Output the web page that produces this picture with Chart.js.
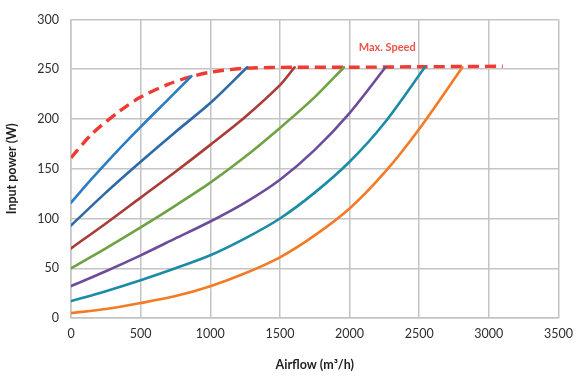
<!DOCTYPE html>
<html>
<head>
<meta charset="utf-8">
<script src="https://cdn.jsdelivr.net/npm/chart.js@4"></script>
<style>
  html, body { margin: 0; padding: 0; background: #fff; }
  #wrap { width: 581px; height: 376px; position: relative; }
</style>
</head>
<body>
<div id="wrap"><canvas id="c"></canvas></div>
<script>
// Airflow (m3/h) vs input power (W), one curve per fan speed step
const maxSpeedX = [0, 150, 350, 500, 700, 850, 1000, 1250, 1600, 2000, 2500, 3100];
const maxSpeedY = [161, 185, 208, 222, 235, 242, 247, 251, 252, 252, 252.5, 253];

const blue1X = [0, 150, 300, 500, 700, 864];
const blue1Y = [116, 140, 163, 192, 220, 243];

const blue2X = [0, 250, 500, 750, 1000, 1265];
const blue2Y = [93, 126, 157, 187, 216, 252];

const redX = [0, 250, 500, 750, 1000, 1250, 1500, 1605];
const redY = [70, 95, 121, 147, 174, 202, 234, 252];

const greenX = [0, 250, 500, 750, 1000, 1250, 1500, 1750, 1960];
const greenY = [50, 70, 91, 113, 136, 162, 191, 222, 252];

const purpleX = [0, 250, 500, 750, 1000, 1250, 1500, 1750, 2000, 2258];
const purpleY = [32, 47, 63, 80, 97, 116, 139, 169, 206, 252];

const tealX = [0, 250, 500, 750, 1000, 1250, 1500, 1750, 2000, 2250, 2540];
const tealY = [17, 27, 38, 50, 63, 80, 100, 126, 157, 196, 252];

const orangeX = [0, 250, 500, 750, 1000, 1250, 1500, 1750, 2000, 2250, 2500, 2810];
const orangeY = [5, 9, 15, 22, 32, 45, 61, 83, 110, 146, 190, 252];

const xTitle = "Airflow (m³/h)";
const yTitle = "Input power (W)";
const maxSpeedLabel = "Max. Speed";
const maxSpeedLabelAt = { x: 2270, y: 272 };

function pts(xs, ys) {
  return xs.map((x, i) => ({ x, y: ys[i] }));
}

function curve(label, xs, ys, color) {
  return {
    label,
    data: pts(xs, ys),
    borderColor: color,
    backgroundColor: color,
    borderWidth: 2.6,
    pointRadius: 0,
    tension: 0.3,
    borderCapStyle: "round",
  };
}

const datasets = [
  curve("s1", blue1X, blue1Y, "#2a7cc4"),
  curve("s2", blue2X, blue2Y, "#2e6aa8"),
  curve("s3", redX, redY, "#a93c37"),
  curve("s4", greenX, greenY, "#6ea243"),
  curve("s5", purpleX, purpleY, "#6d4c9c"),
  curve("s6", tealX, tealY, "#1b8ba6"),
  curve("s7", orangeX, orangeY, "#f47a25"),
  {
    label: "max",
    data: pts(maxSpeedX, maxSpeedY),
    borderColor: "#ef3b33",
    borderWidth: 3.4,
    borderDash: [11, 6],
    pointRadius: 0,
    tension: 0.3,
  },
];

const labelPlugin = {
  id: "maxSpeedLabel",
  afterDatasetsDraw(chart) {
    const { ctx, scales } = chart;
    const px = scales.x.getPixelForValue(maxSpeedLabelAt.x);
    const py = scales.y.getPixelForValue(maxSpeedLabelAt.y);
    ctx.save();
    ctx.fillStyle = "#ee5448";
    ctx.font = "bold 11px Lato, 'Open Sans', sans-serif";
    ctx.textAlign = "center";
    ctx.textBaseline = "middle";
    ctx.fillText(maxSpeedLabel, px, py);
    ctx.restore();
  },
};

const tickFont = { family: "Lato, 'Open Sans', sans-serif", size: 12.5 };
const titleFont = { family: "Lato, 'Open Sans', sans-serif", size: 12.5, weight: "bold" };

new Chart(document.getElementById("c"), {
  type: "line",
  data: { datasets },
  plugins: [labelPlugin],
  options: {
    animation: false,
    responsive: true,
    maintainAspectRatio: false,
    layout: { padding: { top: 18, right: 16, left: 0, bottom: 0 } },
    plugins: { legend: { display: false }, tooltip: { enabled: false } },
    scales: {
      x: {
        type: "linear",
        min: 0,
        max: 3500,
        ticks: {
          stepSize: 500, color: "#2e2e2e", font: tickFont, padding: 8, maxRotation: 0,
          callback: (v) => String(v),
        },
        grid: { color: "#c4c4c4", lineWidth: 1.5, drawTicks: false },
        border: { color: "#c4c4c4", width: 1.5 },
        title: { display: true, text: xTitle, color: "#1e1e1e", font: titleFont, padding: { top: 8 } },
        afterFit(scale) { scale.height = 58; },
      },
      y: {
        type: "linear",
        min: 0,
        max: 300,
        ticks: { stepSize: 50, color: "#2e2e2e", font: tickFont, padding: 12, callback: (v) => String(v) },
        grid: { color: "#c4c4c4", lineWidth: 1.5, drawTicks: false },
        border: { color: "#c4c4c4", width: 1.5 },
        title: { display: true, text: yTitle, color: "#1e1e1e", font: titleFont, padding: { bottom: 6 } },
        afterFit(scale) { scale.width = 71; },
      },
    },
  },
});
</script>
</body>
</html>
